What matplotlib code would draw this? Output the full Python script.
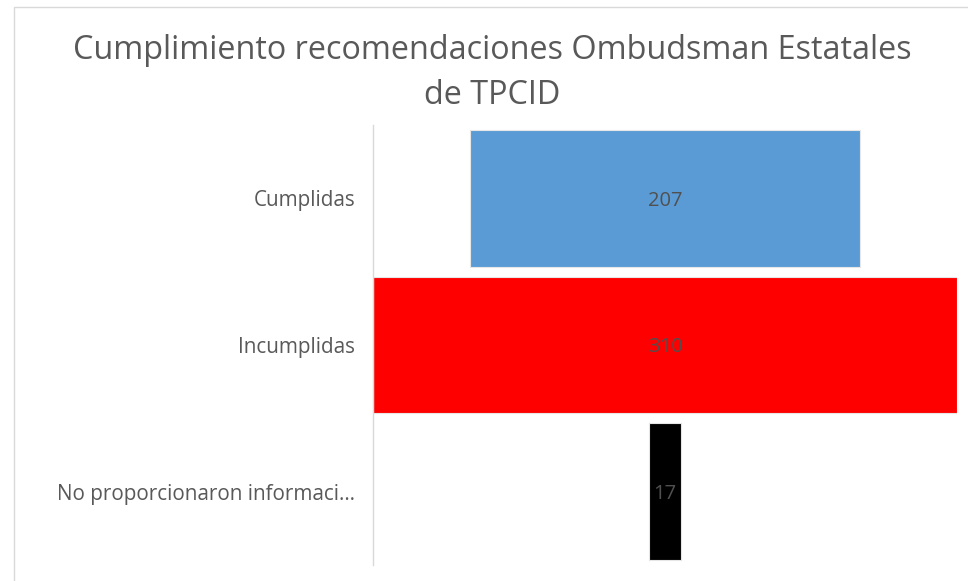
import matplotlib
matplotlib.use("Agg")
import matplotlib.pyplot as plt
from matplotlib.patches import Rectangle

categories = ["Cumplidas", "Incumplidas", "No proporcionaron informaci…"]
values = [207, 310, 17]
colors = ["#5B9BD5", "#FF0000", "#000000"]
title = "Cumplimiento recomendaciones Ombudsman Estatales\nde TPCID"

W, H = 968, 581
fig = plt.figure(figsize=(W / 100, H / 100), dpi=100)
fig.patch.set_facecolor("white")

# chart area frame (runs off the right and bottom edges)
fig.patches.append(Rectangle((14 / W, -0.05), 1.2, 1 - 7 / H + 0.05,
                             transform=fig.transFigure, fill=False,
                             edgecolor="#D9D9D9", linewidth=1.0))

ax = fig.add_axes([373 / W, (H - 565) / H, (957 - 373) / W, 440 / H])

vmax = max(values)
ypos = list(range(len(categories)))
bars = ax.barh(ypos, values, left=[-v / 2 for v in values], height=0.934,
               color=colors, edgecolor="#E6E6E6", linewidth=0.8)
for y, v in zip(ypos, values):
    ax.text(0, y, str(v), ha="center", va="center_baseline", fontsize=14.5,
            color="#505050", family="Open Sans")

ax.set_xlim(-vmax / 2, vmax / 2)
ax.set_ylim(len(categories) - 0.5, -0.5)
ax.set_yticks(ypos)
ax.set_yticklabels(categories, fontsize=14.9, color="#595959", family="Open Sans")
ax.tick_params(axis="y", length=0, pad=13)
ax.set_xticks([])
for s in ["top", "right", "bottom"]:
    ax.spines[s].set_visible(False)
ax.spines["left"].set_color("#D9D9D9")
ax.spines["left"].set_linewidth(1.0)
ax.set_facecolor("none")

fig.text(492 / W, 1 - 73 / H, title, ha="center", va="center",
         fontsize=23.3, color="#595959", family="Open Sans", linespacing=1.5)

fig.savefig("out.png", dpi=100)
